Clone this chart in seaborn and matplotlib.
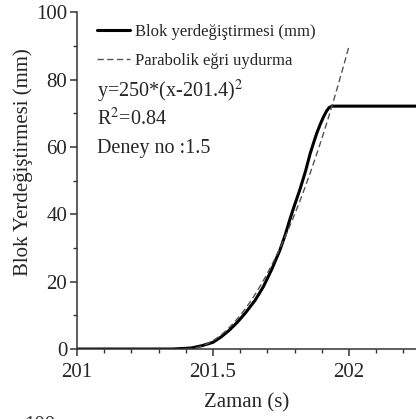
import numpy as np
import pandas as pd
import matplotlib
matplotlib.use("Agg")
import matplotlib.pyplot as plt
from matplotlib.ticker import MultipleLocator
import seaborn as sns

# Measured block displacement over time
zaman = [201.0, 201.2, 201.35, 201.42, 201.46, 201.5, 201.53, 201.56, 201.59,
         201.62, 201.655, 201.685, 201.715, 201.746, 201.765, 201.783, 201.8,
         201.82, 201.84, 201.857, 201.87, 201.881, 201.894, 201.906, 201.917,
         201.927, 201.937, 202.25]
yerdegistirme = [0.0, 0.0, 0.0, 0.3, 1.0, 2.0, 3.6, 5.6, 8.0,
                 10.8, 14.5, 18.5, 23.5, 29.4, 33.8, 38.6, 42.8,
                 47.5, 52.8, 58.0, 61.3, 64.0, 66.7, 68.9, 70.6,
                 71.7, 72.1, 72.1]

# Parabolic fit y = a*(x - x0)^2 as written on the chart
fit_a = 250.0
fit_x0 = 201.4
fit_x_end = 202.0

sns.set_style("ticks")
plt.rcParams["font.family"] = ["Liberation Serif", "DejaVu Serif"]
plt.rcParams["mathtext.fontset"] = "stix"

fig = plt.figure(figsize=(4.16, 4.19), dpi=100)
ax = fig.add_axes([0.185, 0.167, 0.815, 0.804])

df_olcum = pd.DataFrame({"x": zaman, "y": yerdegistirme})
fit_x = np.linspace(fit_x0, fit_x_end, 200)
df_fit = pd.DataFrame({"x": fit_x, "y": fit_a * (fit_x - fit_x0) ** 2})

sns.lineplot(data=df_olcum, x="x", y="y", ax=ax, color="black", linewidth=2.2,
             label="Blok yerdeğiştirmesi (mm)", sort=False)
sns.lineplot(data=df_fit, x="x", y="y", ax=ax, color="#555555", linewidth=1.0,
             linestyle=(0, (4.5, 2.5)), label="Parabolik eğri uydurma", sort=False)

ax.set_xlim(201.0, 202.246)
ax.set_ylim(0, 100)
ax.xaxis.set_minor_locator(MultipleLocator(0.1))
ax.yaxis.set_major_locator(MultipleLocator(20))
ax.yaxis.set_minor_locator(MultipleLocator(10))
ax.set_xticks([201, 201.5, 202])
ax.set_xticklabels(["201", "201.5", "202"])

for side in ["top", "right"]:
    ax.spines[side].set_visible(False)
for side in ["left", "bottom"]:
    ax.spines[side].set_linewidth(1.1)
    ax.spines[side].set_color("#333333")

ax.tick_params(which="major", direction="out", length=5, width=1.1,
               labelsize=15, color="#333333")
ax.tick_params(axis="x", which="major", pad=5)
ax.tick_params(axis="y", which="major", pad=2)
ax.tick_params(which="minor", direction="out", length=3, width=1.0,
               color="#333333")

ax.set_xlabel("Zaman (s)", fontsize=15, labelpad=8)
ax.set_ylabel("Blok Yerdeğiştirmesi (mm)", fontsize=15)
ax.yaxis.set_label_coords(-0.13, 0.555)

leg = ax.legend(loc="upper left", bbox_to_anchor=(0.059, 0.966), frameon=False,
                fontsize=12, handlelength=2.0, handletextpad=0.3,
                labelspacing=0.8, borderaxespad=0, borderpad=0)

ax.text(0.059, 0.748, r"y=250*(x-201.4)$^2$", transform=ax.transAxes,
        fontsize=14.5, ha="left", va="baseline")
ax.text(0.059, 0.666, r"R$^2$=0.84", transform=ax.transAxes,
        fontsize=14.5, ha="left", va="baseline")
ax.text(0.059, 0.582, "Deney no :1.5", transform=ax.transAxes,
        fontsize=14.5, ha="left", va="baseline")

# Top of the next panel's tick label, just entering the frame
fig.text(55 / 416, 3 / 419, "100", fontsize=15, ha="right", va="top")

fig.savefig("out.png", dpi=100)
